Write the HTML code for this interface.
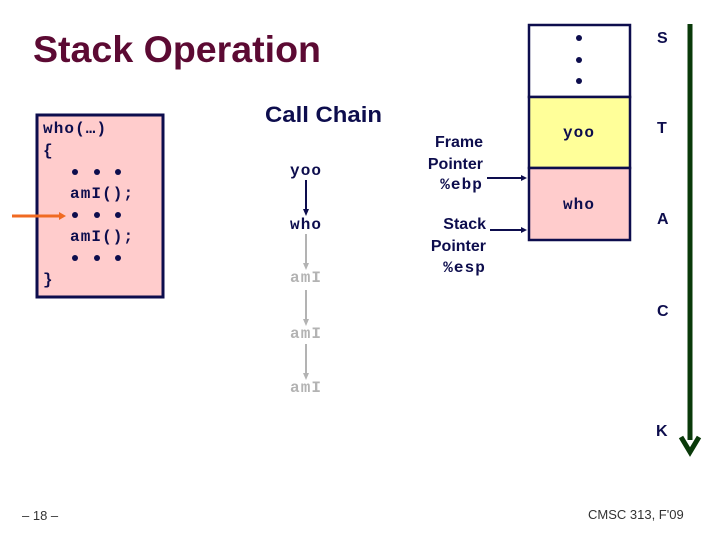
<!DOCTYPE html>
<html><head><meta charset="utf-8"><style>
html,body{margin:0;padding:0;background:#fff;}
svg{display:block}
.m{font-family:"Liberation Mono",monospace;font-weight:bold;font-size:16px;letter-spacing:1.1px;fill:#0d0d4d}
.s{font-family:"Liberation Sans",sans-serif;font-weight:bold;fill:#0d0d4d}
</style></head><body>
<svg width="720" height="540" viewBox="0 0 720 540" xmlns="http://www.w3.org/2000/svg">
<text x="33" y="62" font-family="Liberation Sans,sans-serif" font-weight="bold" font-size="37" fill="#5c0a33" textLength="288" lengthAdjust="spacingAndGlyphs">Stack Operation</text>
<text x="265" y="122" class="s" font-size="22" textLength="117" lengthAdjust="spacingAndGlyphs">Call Chain</text>
<!-- code box -->
<rect x="37" y="115" width="126" height="182" fill="#ffcccc" stroke="#0d0d4d" stroke-width="3"/>
<text x="43" y="133" class="m">who(…)</text>
<text x="43" y="155" class="m">{</text>
<g fill="#0d0d4d">
<circle cx="75" cy="172" r="3"/><circle cx="97" cy="172" r="3"/><circle cx="118" cy="172" r="3"/>
<circle cx="75" cy="215" r="3"/><circle cx="97" cy="215" r="3"/><circle cx="118" cy="215" r="3"/>
<circle cx="75" cy="258" r="3"/><circle cx="97" cy="258" r="3"/><circle cx="118" cy="258" r="3"/>
</g>
<text x="70" y="198" class="m">amI();</text>
<text x="70" y="241" class="m">amI();</text>
<text x="43" y="284" class="m">}</text>
<line x1="12" y1="216" x2="60" y2="216" stroke="#f06a22" stroke-width="3"/>
<polygon points="59,212 66,216 59,220" fill="#f06a22"/>
<!-- call chain -->
<text x="290" y="175" class="m">yoo</text>
<line x1="306" y1="180" x2="306" y2="210" stroke="#0d0d4d" stroke-width="2"/>
<polygon points="303,209 306,216 309,209" fill="#0d0d4d"/>
<text x="290" y="229" class="m">who</text>
<g stroke="#b3b3b3" stroke-width="2">
<line x1="306" y1="234" x2="306" y2="264"/>
<line x1="306" y1="290" x2="306" y2="320"/>
<line x1="306" y1="344" x2="306" y2="374"/>
</g>
<g fill="#b3b3b3">
<polygon points="303,263 306,270 309,263"/>
<polygon points="303,319 306,326 309,319"/>
<polygon points="303,373 306,380 309,373"/>
</g>
<text x="290" y="282" class="m" style="fill:#b3b3b3">amI</text>
<text x="290" y="338" class="m" style="fill:#b3b3b3">amI</text>
<text x="290" y="392" class="m" style="fill:#b3b3b3">amI</text>
<!-- pointers -->
<text x="483" y="147" class="s" font-size="16" text-anchor="end">Frame</text>
<text x="483" y="169" class="s" font-size="16" text-anchor="end">Pointer</text>
<text x="483" y="189" class="m" text-anchor="end">%ebp</text>
<line x1="487" y1="178" x2="522" y2="178" stroke="#0d0d4d" stroke-width="2"/>
<polygon points="521,175 527,178 521,181" fill="#0d0d4d"/>
<text x="486" y="229" class="s" font-size="16" text-anchor="end">Stack</text>
<text x="486" y="251" class="s" font-size="16" text-anchor="end">Pointer</text>
<text x="486" y="272" class="m" text-anchor="end">%esp</text>
<line x1="490" y1="230" x2="522" y2="230" stroke="#0d0d4d" stroke-width="2"/>
<polygon points="521,227 527,230 521,233" fill="#0d0d4d"/>
<!-- stack -->
<rect x="529" y="25" width="101" height="72" fill="#fff" stroke="#0d0d4d" stroke-width="2.5"/>
<rect x="529" y="97" width="101" height="71" fill="#ffff99" stroke="#0d0d4d" stroke-width="2.5"/>
<rect x="529" y="168" width="101" height="72" fill="#ffcccc" stroke="#0d0d4d" stroke-width="2.5"/>
<g fill="#0d0d4d"><circle cx="579" cy="38" r="3"/><circle cx="579" cy="60" r="3"/><circle cx="579" cy="81" r="3"/></g>
<text x="579" y="137" class="m" text-anchor="middle">yoo</text>
<text x="579" y="209" class="m" text-anchor="middle">who</text>
<g class="s" font-size="16">
<text x="657" y="43">S</text>
<text x="657" y="133">T</text>
<text x="657" y="224">A</text>
<text x="657" y="316">C</text>
<text x="656" y="436">K</text>
</g>
<line x1="690" y1="24" x2="690" y2="440" stroke="#0a3a0a" stroke-width="5"/>
<polyline points="681,437 690,452 699,437" fill="none" stroke="#0a3a0a" stroke-width="5"/>
<text x="22" y="520" font-family="Liberation Sans,sans-serif" font-size="13" fill="#333">– 18 –</text>
<text x="588" y="519" font-family="Liberation Sans,sans-serif" font-size="13" fill="#333">CMSC 313, F'09</text>
</svg>
</body></html>
